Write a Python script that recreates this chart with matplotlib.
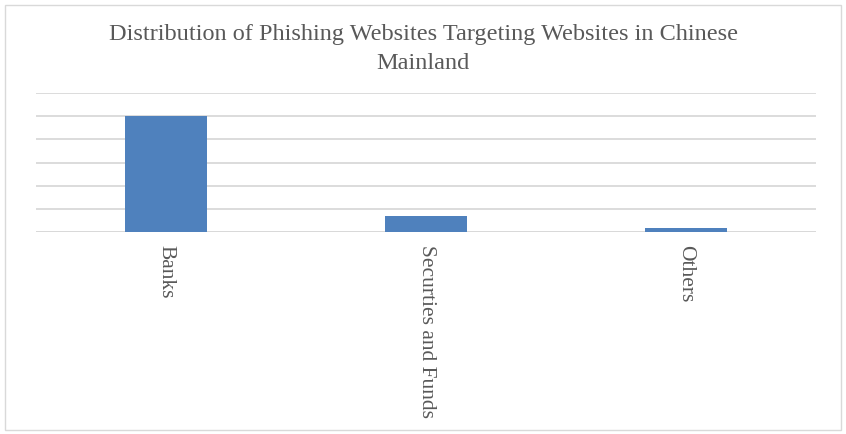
import matplotlib.pyplot as plt
from matplotlib.patches import Rectangle
import numpy as np

# ── data (no axis labels shown) ───────────────────────────────────────────────
categories = ["Banks", "Securties and Funds", "Others"]
values     = [50.0, 6.8, 1.6]
y_ticks    = [0, 10, 20, 30, 40, 50, 60]

TITLE = "Distribution of Phishing Websites Targeting Websites in Chinese\nMainland"

BAR_COLOR  = "#4F81BD"
GRID_COLOR = "#D9D9D9"
TEXT_COLOR = "#595959"

plt.rcParams["font.family"] = ["Liberation Serif", "DejaVu Serif"]

fig = plt.figure(figsize=(8.46, 4.34), dpi=100)
W, H = 846, 434
ax = fig.add_axes([36 / W, 1 - 232 / H, 780 / W, (232 - 93) / H])

x = np.arange(len(categories))
ax.bar(x, values, width=0.315, color=BAR_COLOR, zorder=3)

ax.set_xlim(-0.5, len(categories) - 0.5)
ax.set_ylim(y_ticks[0], y_ticks[-1])
ax.set_yticks(y_ticks)
ax.yaxis.grid(True, color=GRID_COLOR, linewidth=1.3, zorder=0)
ax.tick_params(axis="y", left=False, labelleft=False)
ax.tick_params(axis="x", bottom=False, pad=6)
ax.set_xticks(x)
ax.set_xticklabels(categories, rotation=270, fontsize=15.5, color=TEXT_COLOR,
                   va="top", ha="center")
for s in ax.spines.values():
    s.set_visible(False)
ax.axhline(0, color=GRID_COLOR, linewidth=1.3, zorder=2)

fig.text(0.5, 1 - 49 / H, TITLE, ha="center", va="center", fontsize=17.5,
         color=TEXT_COLOR, linespacing=1.45)

# light frame round the chart area
fig.patches.append(Rectangle((5 / W, 4 / H), 836 / W, 425 / H, transform=fig.transFigure,
                             fill=False, edgecolor="#D9D9D9", linewidth=1))

fig.savefig("out.png", dpi=100)
